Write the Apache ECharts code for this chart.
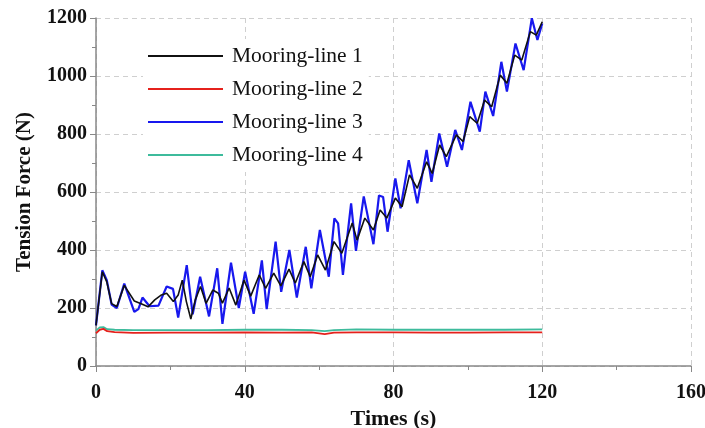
<!DOCTYPE html>
<html>
<head>
<meta charset="utf-8">
<script src="https://cdn.jsdelivr.net/npm/echarts@6/dist/echarts.min.js"></script>
<style>
	html, body { margin: 0; padding: 0; background: #fff; }
	#main { width: 705px; height: 428px; }
</style>
</head>
<body>
<div id="main"></div>
<script>
// 图例名称
var seriesNames = ['Mooring-line 1', 'Mooring-line 2', 'Mooring-line 3', 'Mooring-line 4'];

// Mooring-line 1 (黑)
var line1Times = [0, 1.7, 2.9, 4.2, 5.6, 7.6, 10.3, 12.3, 14.0, 15.8, 17.6, 19.0, 20.8, 22.1, 23.2, 24.3, 25.5, 26.7, 28.1, 29.6,
	31.4, 32.9, 34.0, 35.8, 37.6, 39.8, 41.6, 43.9, 45.6, 47.8, 49.7, 51.9, 53.6, 55.9, 57.6, 59.6, 61.7, 64.0, 66.1, 68.9,
	70.2, 72.3, 74.6, 76.4, 78.2, 80.5, 82.3, 84.3, 86.4, 88.9, 90.4, 92.4, 94.2, 96.9, 98.7, 100.5, 102.5, 104.5, 106.4, 108.7,
	110.5, 112.6, 114.5, 116.8, 118.4, 120.0];
var line1Values = [140, 325, 290, 215, 205, 278, 224, 214, 204, 228, 245, 251, 222, 245, 296, 222, 162, 228, 274, 216,
	262, 251, 217, 269, 210, 296, 241, 314, 268, 320, 276, 334, 286, 360, 308, 383, 331, 429, 389, 493,
	434, 510, 469, 538, 510, 579, 549, 659, 613, 704, 664, 762, 722, 797, 774, 860, 837, 917, 894, 1003,
	975, 1072, 1055, 1153, 1141, 1187];

// Mooring-line 2 (红)
var line2Times = [0, 1, 2, 3, 5, 10, 20, 30, 40, 50, 58, 61.5, 64, 70, 80, 90, 100, 110, 120];
var line2Values = [113, 125, 128, 120, 117, 114, 115, 115, 116, 115, 116, 110, 115, 116, 116, 115, 115, 116, 116];

// Mooring-line 3 (蓝)
var line3Times = [0, 1.7, 2.9, 4.2, 5.6, 7.6, 10.3, 11.4, 12.5, 14.4, 16.8, 19.0, 20.7, 22.1, 24.4, 26.0, 28.0, 30.4, 32.6, 34.0,
	36.3, 38.4, 40.1, 42.4, 44.6, 45.9, 48.3, 49.8, 52.0, 54.0, 56.4, 57.9, 60.2, 62.6, 64.1, 65.1, 66.4, 68.6, 69.9, 72.0,
	74.6, 76.1, 77.2, 78.4, 80.5, 81.9, 84.1, 86.4, 88.9, 90.2, 92.3, 94.4, 96.6, 98.4, 100.7, 103.2, 104.7, 106.8, 109.0, 110.5,
	112.8, 115.0, 117.2, 118.7, 120.0];
var line3Values = [140, 330, 296, 212, 200, 284, 187, 196, 236, 206, 208, 274, 266, 167, 348, 178, 308, 171, 337, 145,
	356, 200, 325, 180, 364, 196, 429, 256, 400, 236, 411, 268, 469, 308, 509, 492, 314, 561, 397, 585,
	420, 588, 583, 463, 647, 544, 710, 561, 745, 635, 802, 687, 814, 745, 911, 808, 946, 862, 1049, 946,
	1112, 1020, 1199, 1124, 1181];

// Mooring-line 4 (绿)
var line4Times = [0, 1, 2, 3, 5, 10, 20, 30, 40, 50, 58, 61.5, 64, 70, 80, 90, 100, 110, 120];
var line4Values = [122, 133, 134, 127, 125, 124, 124, 124, 125, 125, 124, 120, 124, 126, 125, 125, 125, 125, 126];

// 坐标轴
var xMax = 160, xStep = 40;
var yMax = 1200, yStep = 200;

var colors = ['#111111', '#e5211c', '#1818ee', '#3dbb9c'];

function pairs(ts, vs) {
	var arr = [];
	for (var i = 0; i < ts.length; i++) {
		arr.push([ts[i], vs[i]]);
	}
	return arr;
}

var myChart = echarts.init(document.getElementById('main'));

var serif = 'Liberation Serif';

var option = {
	animation: false,
	backgroundColor: '#fff',
	grid: { left: 96, right: 14, top: 18, bottom: 62, outerBoundsMode: 'none' },
	legend: {
		orient: 'vertical',
		left: 143,
		top: 39,
		padding: [6, 6, 6, 5],
		backgroundColor: '#fff',
		itemWidth: 75,
		itemHeight: 2,
		itemGap: 11,
		icon: 'rect',
		data: seriesNames,
		textStyle: {
			fontFamily: serif,
			fontSize: 21.5,
			color: '#111',
			lineHeight: 21,
			padding: [0, 0, 0, 4]
		}
	},
	xAxis: {
		type: 'value',
		min: 0,
		max: xMax,
		interval: xStep,
		name: 'Times (s)',
		nameLocation: 'middle',
		nameGap: 33,
		nameTextStyle: { fontFamily: serif, fontWeight: 'bold', fontSize: 22, color: '#111' },
		axisLine: { show: true, onZero: false, lineStyle: { color: '#888', width: 1.5 } },
		axisTick: { show: true, length: 6, lineStyle: { color: '#888' } },
		minorTick: { show: true, splitNumber: 2, length: 4, lineStyle: { color: '#888' } },
		axisLabel: { fontFamily: serif, fontWeight: 'bold', fontSize: 20, color: '#111', margin: 17 },
		splitLine: { show: true, lineStyle: { color: '#cfcfcf', type: [5, 4] } }
	},
	yAxis: {
		type: 'value',
		min: 0,
		max: yMax,
		interval: yStep,
		name: 'Tension Force (N)',
		nameLocation: 'middle',
		nameGap: 61,
		nameTextStyle: { fontFamily: serif, fontWeight: 'bold', fontSize: 21, color: '#111' },
		axisLine: { show: true, lineStyle: { color: '#888', width: 1.5 } },
		axisTick: { show: true, length: 6, lineStyle: { color: '#888' } },
		minorTick: { show: true, splitNumber: 2, length: 4, lineStyle: { color: '#888' } },
		axisLabel: {
			fontFamily: serif, fontWeight: 'bold', fontSize: 20, color: '#111', margin: 9,
			formatter: function (v) { return String(v); }
		},
		splitLine: { show: true, lineStyle: { color: '#cfcfcf', type: [5, 4] } }
	},
	series: [
		{
			name: seriesNames[0], type: 'line', showSymbol: false, symbol: 'none', z: 5,
			itemStyle: { color: colors[0] },
			lineStyle: { color: colors[0], width: 1.6 },
			data: pairs(line1Times, line1Values)
		},
		{
			name: seriesNames[1], type: 'line', showSymbol: false, symbol: 'none', z: 3,
			itemStyle: { color: colors[1] },
			lineStyle: { color: colors[1], width: 1.8 },
			data: pairs(line2Times, line2Values)
		},
		{
			name: seriesNames[2], type: 'line', showSymbol: false, symbol: 'none', z: 4,
			itemStyle: { color: colors[2] },
			lineStyle: { color: colors[2], width: 2.2 },
			data: pairs(line3Times, line3Values)
		},
		{
			name: seriesNames[3], type: 'line', showSymbol: false, symbol: 'none', z: 2,
			itemStyle: { color: colors[3] },
			lineStyle: { color: colors[3], width: 1.8 },
			data: pairs(line4Times, line4Values)
		}
	]
};

myChart.setOption(option);
</script>
</body>
</html>
